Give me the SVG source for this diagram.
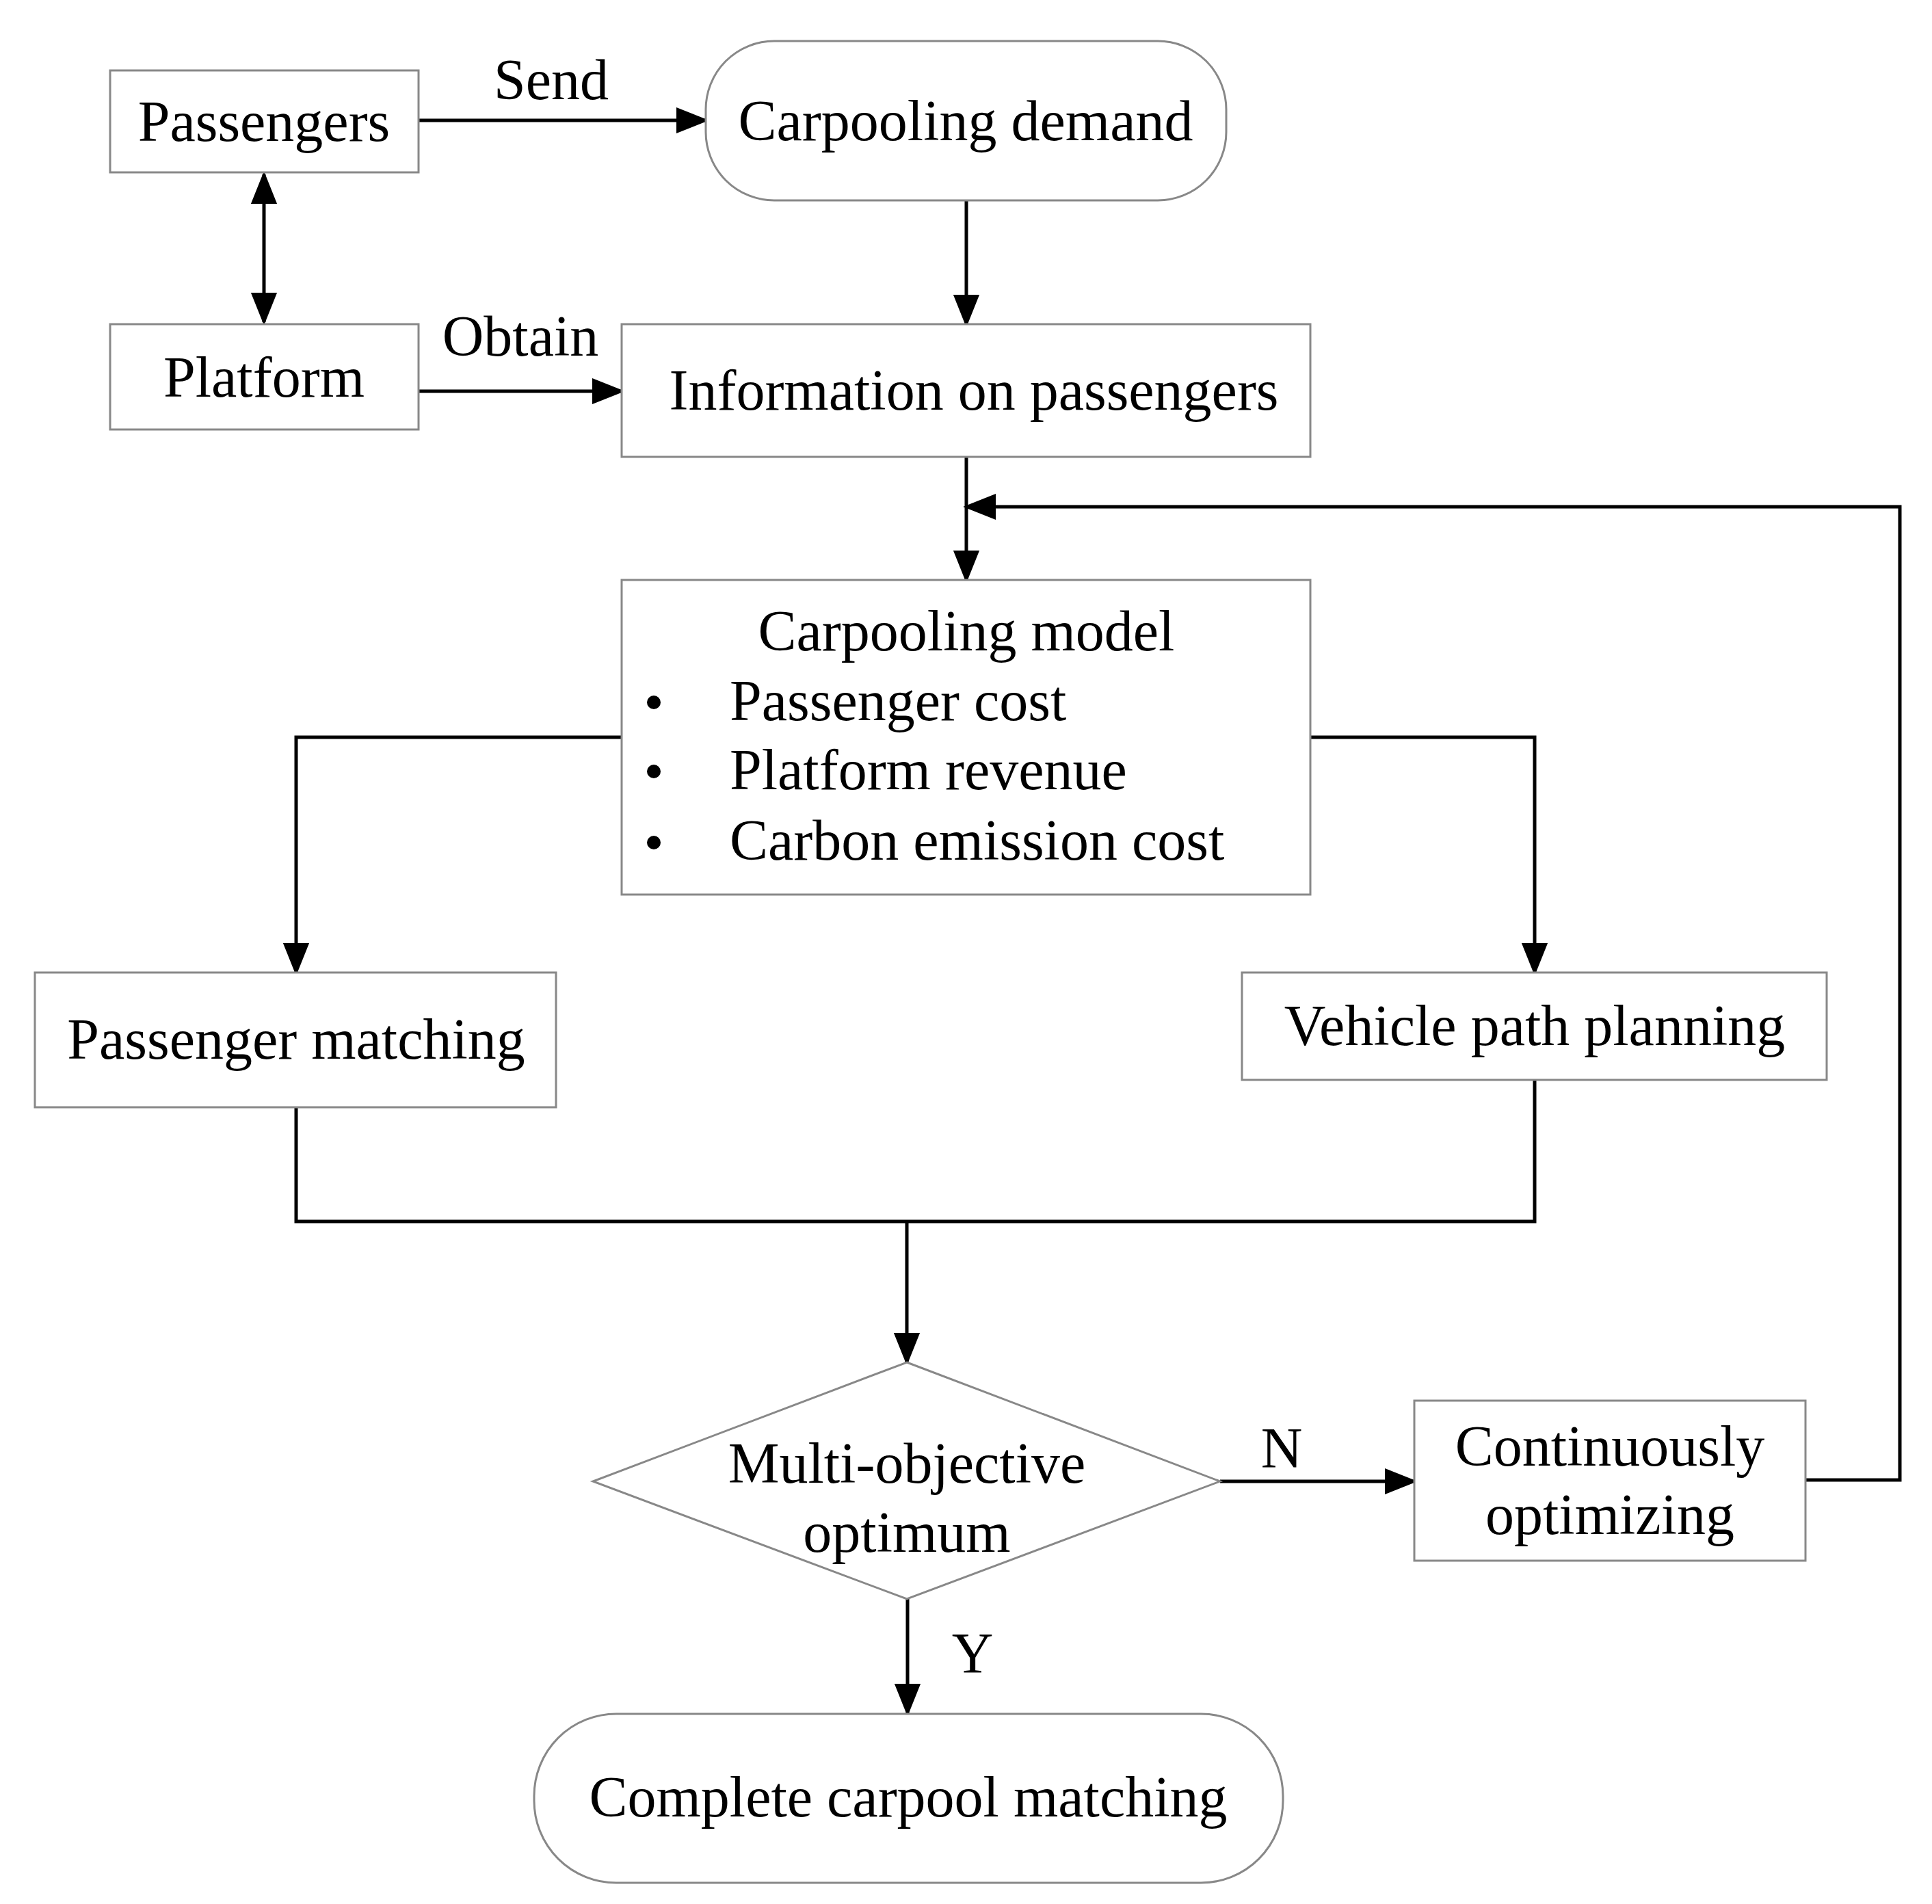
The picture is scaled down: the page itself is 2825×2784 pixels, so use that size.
<svg xmlns="http://www.w3.org/2000/svg" width="2825" height="2784" viewBox="0 0 2825 2784">
<style>
.b{fill:#fff;stroke:#888;stroke-width:3}
.t{font-family:"Liberation Serif",serif;font-size:84px;fill:#000;text-anchor:middle}
.l{font-family:"Liberation Serif",serif;font-size:84px;fill:#000}
.c{fill:none;stroke:#000;stroke-width:5}
</style>
<defs>
<marker id="m" viewBox="0 0 10 10" refX="9" refY="5" markerWidth="48" markerHeight="48" markerUnits="userSpaceOnUse" orient="auto-start-reverse"><path d="M0,1L10,5L0,9z" fill="#000"/></marker></defs>
<rect width="2825" height="2784" fill="#fff"/>
<g id="connectors">
<path class="c" d="M612,176H1032" marker-end="url(#m)"/>
<path class="c" d="M386,255V471" marker-start="url(#m)" marker-end="url(#m)"/>
<path class="c" d="M612,572H909" marker-end="url(#m)"/>
<path class="c" d="M1413,293V474" marker-end="url(#m)"/>
<path class="c" d="M1413,668V848" marker-end="url(#m)"/>
<path class="c" d="M2640,2164H2778V741H1413" marker-end="url(#m)"/>
<path class="c" d="M909,1078H433V1422" marker-end="url(#m)"/>
<path class="c" d="M1916,1078H2244V1422" marker-end="url(#m)"/>
<path class="c" d="M433,1619V1786H2244V1579"/>
<path class="c" d="M1326,1786V1992" marker-end="url(#m)"/>
<path class="c" d="M1784,2166H2068" marker-end="url(#m)"/>
<path class="c" d="M1327,2338V2505" marker-end="url(#m)"/>
<text class="t" x="806" y="145">Send</text>
<text class="t" x="761" y="520">Obtain</text>
<text class="t" x="1874" y="2146">N</text>
<text class="t" x="1422" y="2446">Y</text>
</g>
<g id="passengers"><rect class="b" x="161" y="103" width="451" height="149"/><text class="t" x="386" y="206">Passengers</text></g>
<g id="demand"><rect class="b" x="1032" y="60" width="761" height="233" rx="100"/><text class="t" x="1412" y="205">Carpooling demand</text></g>
<g id="platform"><rect class="b" x="161" y="474" width="451" height="154"/><text class="t" x="386" y="580">Platform</text></g>
<g id="info"><rect class="b" x="909" y="474" width="1007" height="194"/><text class="t" x="1424" y="599">Information on passengers</text></g>
<g id="model"><rect class="b" x="909" y="848" width="1007" height="460"/>
<text class="t" x="1413" y="951">Carpooling model</text>
<circle cx="956" cy="1027" r="10"/><circle cx="956" cy="1128" r="10"/><circle cx="956" cy="1232" r="10"/>
<text class="l" x="1067" y="1053">Passenger cost</text>
<text class="l" x="1067" y="1154">Platform revenue</text>
<text class="l" x="1067" y="1257">Carbon emission cost</text></g>
<g id="pm"><rect class="b" x="51" y="1422" width="762" height="197"/><text class="t" x="433" y="1548">Passenger matching</text></g>
<g id="vp"><rect class="b" x="1816" y="1422" width="855" height="157"/><text class="t" x="2244" y="1528">Vehicle path planning</text></g>
<g id="decision"><path class="b" d="M1326,1992L1784,2166L1326,2338L867,2166Z"/><text class="t" x="1326" y="2168">Multi-objective</text><text class="t" x="1326" y="2269">optimum</text></g>
<g id="cont"><rect class="b" x="2068" y="2048" width="572" height="234"/><text class="t" x="2354" y="2143">Continuously</text><text class="t" x="2354" y="2243">optimizing</text></g>
<g id="complete"><rect class="b" x="781" y="2506" width="1095" height="247" rx="120"/><text class="t" x="1328" y="2656">Complete carpool matching</text></g>
</svg>
